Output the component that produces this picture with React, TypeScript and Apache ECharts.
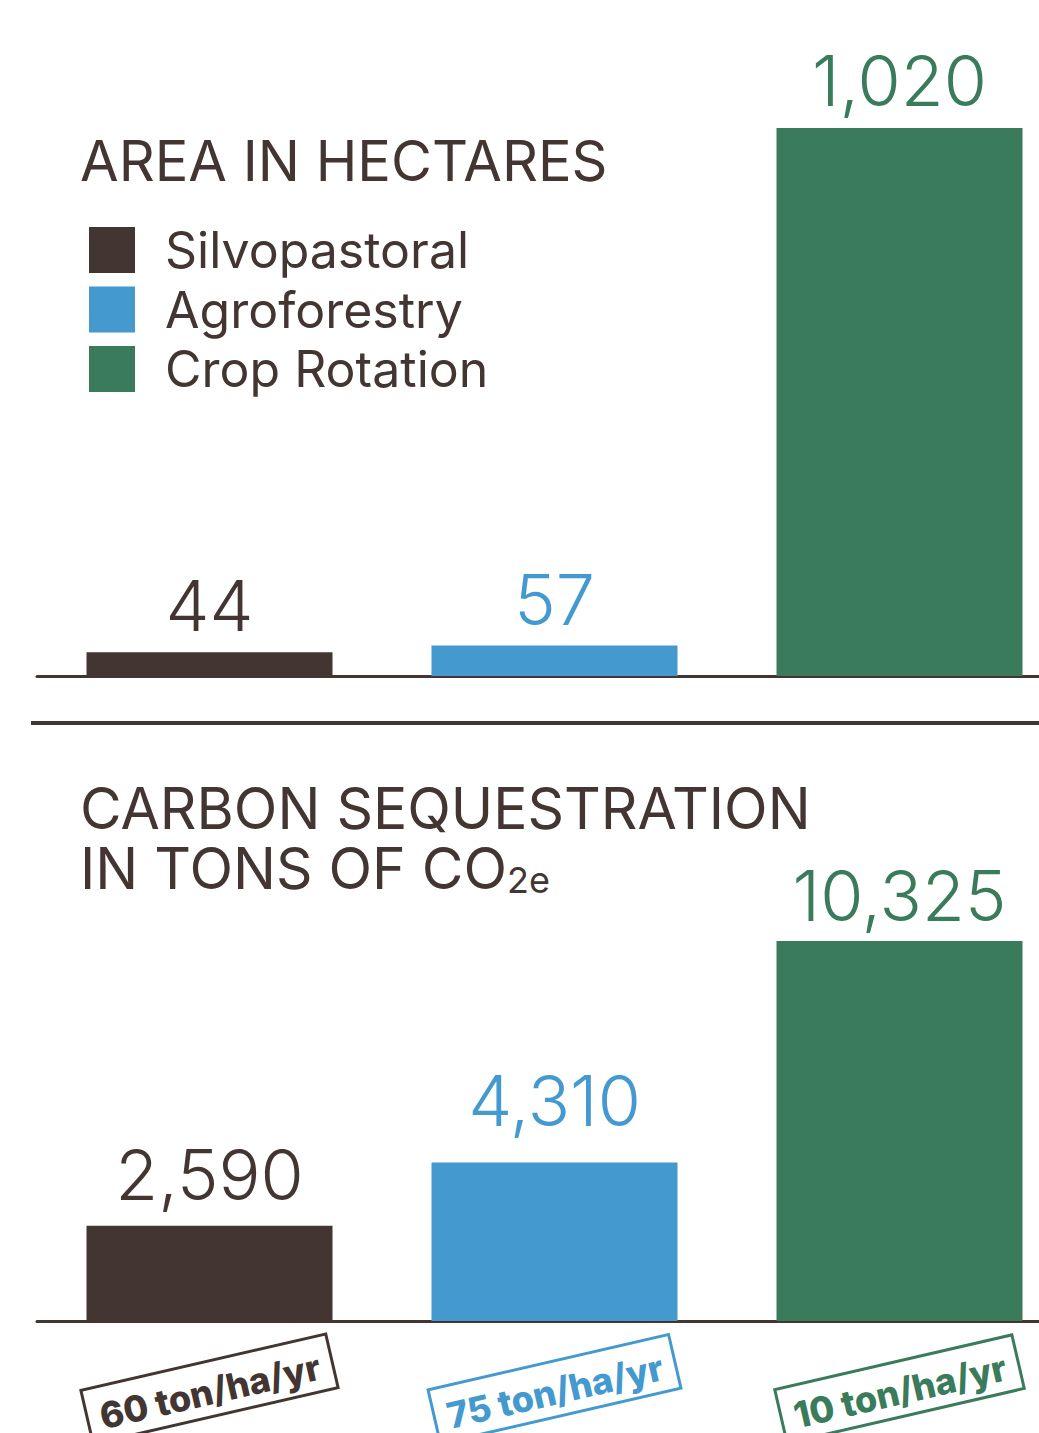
import React, { useEffect, useRef } from "react";
import * as echarts from "echarts";

const categories = ["Silvopastoral", "Agroforestry", "Crop Rotation"];
const areaValues = [44, 57, 1020];
const carbonValues = [2590, 4310, 10325];
const rateLabels = ["60 ton/ha/yr", "75 ton/ha/yr", "10 ton/ha/yr"];
const colors = ["#433632", "#4499cf", "#3a7b5b"];
const areaLabelGap = [11.5, 10.5, 12.5];
const carbonLabelGap = [16, 26.5, 10.5];

const FONT = "Inter";
const BROWN = "#433632";

const fmt = (v: any) => Number(v).toLocaleString("en-US");

export default function App() {
  const ref = useRef<HTMLDivElement>(null);
  useEffect(() => {
    if (!ref.current) return;
    const chart = echarts.init(ref.current, null, { renderer: "svg" });

    const series: any[] = [];
    categories.forEach((name, i) => {
      series.push({
        name,
        type: "bar",
        xAxisIndex: 0,
        yAxisIndex: 0,
        barWidth: 246,
        barGap: "-100%",
        itemStyle: { color: colors[i] },
        emphasis: { disabled: true },
        data: areaValues.map((v, j) => (j === i ? v : "-")),
        label: {
          show: true,
          position: "top",
          distance: areaLabelGap[i],
          color: colors[i],
          fontSize: 70,
          fontFamily: FONT,
          fontWeight: 300,
          formatter: (p: any) => fmt(p.value),
        },
      });
      series.push({
        name,
        type: "bar",
        xAxisIndex: 1,
        yAxisIndex: 1,
        barWidth: 246,
        barGap: "-100%",
        itemStyle: { color: colors[i] },
        emphasis: { disabled: true },
        data: carbonValues.map((v, j) => (j === i ? v : "-")),
        label: {
          show: true,
          position: "top",
          distance: carbonLabelGap[i],
          color: colors[i],
          fontSize: 70,
          fontFamily: FONT,
          fontWeight: 300,
          formatter: (p: any) => fmt(p.value),
        },
      });
    });

    const rich: any = {};
    colors.forEach((c, i) => {
      rich["c" + i] = {
        color: c,
        fontSize: 36,
        fontFamily: FONT,
        fontWeight: 800,
        borderColor: c,
        borderWidth: 3,
        padding: [12, 13, 7, 13],
      };
    });

    chart.setOption({
      animation: false,
      backgroundColor: "#ffffff",
      title: [
        {
          text: "AREA IN HECTARES",
          left: 80,
          top: 133,
          padding: 0,
          textStyle: { fontSize: 56, fontWeight: 400, color: BROWN, fontFamily: FONT },
        },
        {
          text: "CARBON SEQUESTRATION\nIN TONS OF CO{sub|2e}",
          left: 80,
          top: 778,
          padding: 0,
          textStyle: {
            fontSize: 57,
            lineHeight: 60,
            fontWeight: 400,
            color: BROWN,
            fontFamily: FONT,
            rich: {
              sub: {
                fontSize: 36,
                lineHeight: 44,
                verticalAlign: "bottom",
                color: BROWN,
                fontFamily: FONT,
              },
            },
          },
        },
      ],
      legend: {
        data: categories,
        orient: "vertical",
        left: 89,
        top: 225,
        padding: 0,
        itemWidth: 46,
        itemHeight: 46,
        itemGap: 9.5,
        icon: "rect",
        selectedMode: false,
        textStyle: {
          fontSize: 50,
          fontFamily: FONT,
          color: BROWN,
          padding: [0, 0, 0, 25],
        },
      },
      grid: [
        { left: 37, width: 1035, top: 128, height: 548, outerBoundsMode: "none" },
        { left: 37, width: 1035, top: 941, height: 380, outerBoundsMode: "none" },
      ],
      xAxis: [
        {
          type: "category",
          gridIndex: 0,
          data: categories,
          axisTick: { show: false },
          axisLabel: { show: false },
          axisLine: { show: true, lineStyle: { color: BROWN, width: 3 } },
        },
        {
          type: "category",
          gridIndex: 1,
          data: categories,
          axisTick: { show: false },
          axisLine: { show: true, lineStyle: { color: BROWN, width: 3 } },
          axisLabel: {
            show: true,
            interval: 0,
            rotate: 13,
            align: "center",
            verticalAlign: "middle",
            margin: 68,
            formatter: (_v: any, idx: number) => `{c${idx}|${rateLabels[idx]}}`,
            rich,
          },
        },
      ],
      yAxis: [
        { type: "value", gridIndex: 0, min: 0, max: 1020, show: false, splitLine: { show: false } },
        { type: "value", gridIndex: 1, min: 0, max: 10325, show: false, splitLine: { show: false } },
      ],
      graphic: [
        {
          type: "rect",
          shape: { x: 31, y: 721, width: 1010, height: 4 },
          style: { fill: BROWN },
        },
      ],
      series,
    });

    return () => chart.dispose();
  }, []);

  return (
    <div
      ref={ref}
      style={{ position: "fixed", left: 0, top: 0, width: 1039, height: 1433, background: "#fff" }}
    />
  );
}
